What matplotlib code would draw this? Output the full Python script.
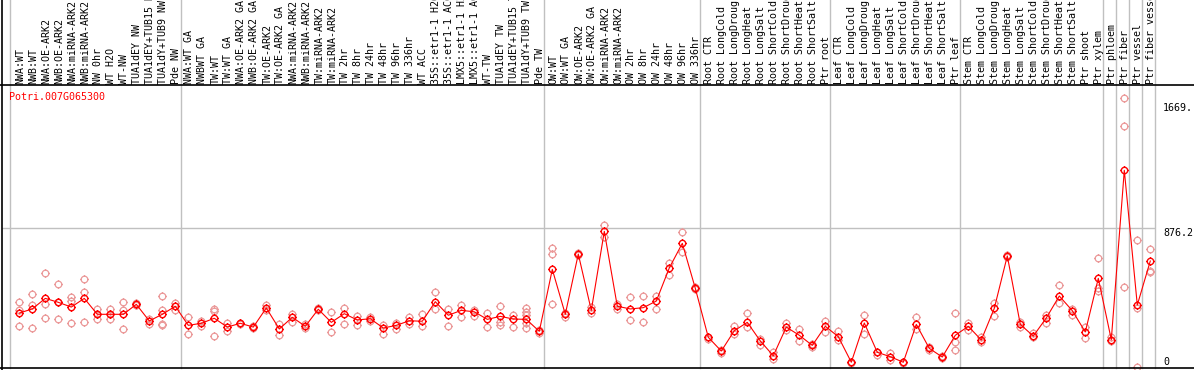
import matplotlib
matplotlib.use("Agg")
import matplotlib.pyplot as plt
from matplotlib.path import Path
from matplotlib.lines import Line2D
import matplotlib.transforms as mtransforms

# ---------------- data ----------------
gene_id = "Potri.007G065300"

labels_nw = ["NWA:WT", "NWB:WT", "NWA:OE-ARK2", "NWB:OE-ARK2", "NWA:miRNA-ARK2", "NWB:miRNA-ARK2",
             "NW 0hr", "WT H2O", "WT-NW", "TUA1dEY NW", "TUA1dEY+TUB15 NW", "TUA1dY+TUB9 NW", "Pde NW"]
labels_tw = ["NWA:WT GA", "NWBWT GA", "TW:WT", "TW:WT GA", "NWA:OE-ARK2 GA", "NWB:OE-ARK2 GA",
             "TW:OE-ARK2", "TW:OE-ARK2 GA", "NWA:miRNA-ARK2", "NWB:miRNA-ARK2", "TW:miRNA-ARK2",
             "TW:miRNA-ARK2", "TW 2hr", "TW 8hr", "TW 24hr", "TW 48hr", "TW 96hr", "TW 336hr", "WT ACC",
             "35S::etr1-1 H2O", "35S::etr1-1 ACC", "LMX5::etr1-1 H2O", "LMX5::etr1-1 ACC", "WT-TW",
             "TUA1dEY TW", "TUA1dEY+TUB15 TW", "TUA1dY+TUB9 TW", "Pde TW"]
labels_ow = ["OW:WT", "OW:WT GA", "OW:OE-ARK2", "OW:OE-ARK2 GA", "OW:miRNA-ARK2", "OW:miRNA-ARK2",
             "OW 2hr", "OW 8hr", "OW 24hr", "OW 48hr", "OW 96hr", "OW 336hr"]
labels_root = ["Root CTR", "Root LongCold", "Root LongDrought", "Root LongHeat", "Root LongSalt",
               "Root ShortCold", "Root ShortDrought", "Root ShortHeat", "Root ShortSalt", "Ptr root"]
labels_leaf = ["Leaf CTR", "Leaf LongCold", "Leaf LongDrought", "Leaf LongHeat", "Leaf LongSalt",
               "Leaf ShortCold", "Leaf ShortDrought", "Leaf ShortHeat", "Leaf ShortSalt", "Ptr leaf"]
labels_stem = ["Stem CTR", "Stem LongCold", "Stem LongDrought", "Stem LongHeat", "Stem LongSalt",
               "Stem ShortCold", "Stem ShortDrought", "Stem ShortHeat", "Stem ShortSalt",
               "Ptr shoot", "Ptr xylem"]
labels_ptr = ["Ptr phloem", "Ptr fiber", "Ptr vessel", "Ptr fiber vessel"]

groups = [labels_nw, labels_tw, labels_ow, labels_root, labels_leaf, labels_stem] + [[l] for l in labels_ptr]
labels = [l for g in groups for l in g]

means = [339, 365, 432, 407, 377, 432, 331, 331, 331, 394, 289, 331, 382,
         261, 274, 306, 250, 274, 250, 371, 238, 312, 255, 363, 280, 335, 295, 303, 244, 261,
         290, 287, 411, 325, 356, 347, 299, 318, 301, 299, 223,
         616, 331, 713, 356, 857, 382, 365, 373, 415, 625, 781, 496,
         185, 98, 227, 280, 162, 68, 250, 198, 134, 255,
         189, 27, 276, 90, 62, 27, 267, 115, 60, 198,
         255, 168, 369, 701, 267, 193, 308, 447, 354, 219, 559,
         170, 1244, 390, 669]

replicates = [
    [407, 358, 255], [458, 390, 244], [591, 399, 306], [521, 407, 299], [439, 418, 274],
    [555, 472, 280], [365, 331, 299], [365, 331, 303], [407, 358, 236], [401, 390, 391],
    [299, 270], [445, 358, 263, 270], [405, 358],
    [314, 208], [291, 257], [365, 354, 191], [274, 225], [278, 270], [259, 246], [388, 356],
    [272, 202], [335, 284], [242, 270], [369, 358], [344, 217], [373, 267], [322, 265],
    [312, 291], [265, 206], [276, 238], [316, 270], [333, 255], [470, 363], [365, 259],
    [388, 312], [358, 322], [341, 248], [382, 280, 261], [327, 248],
    [373, 344, 327, 274, 244], [232, 210],
    [749, 713, 394], [337, 316], [722, 707], [380, 337], [895, 819], [394, 367], [439, 293],
    [445, 280], [449, 363], [659, 578], [851, 724], [502, 489],
    [189, 172], [105, 83], [257, 204], [339, 251], [172, 136], [90, 48], [274, 232],
    [240, 160], [143, 126], [291, 219],
    [225, 168], [31, 20], [325, 204], [70, 95], [83, 41], [31, 20], [316, 236], [126, 105],
    [67, 54], [337, 153, 105],
    [278, 231], [185, 158], [401, 322], [705, 692], [282, 248], [210, 189], [325, 278],
    [517, 401], [363, 327], [248, 183], [686, 496, 481],
    [189, 164], [1701, 1523, 502], [800, 0, 370], [743, 606, 601]]

ytick_labels = [(1669, "1669."), (876.2, "876.2"), (0, "0")]
grid_value = 876.2

# ---------------- layout ----------------
W, H = 1194, 370
fig = plt.figure(figsize=(W / 100, H / 100), dpi=100)
x_left, x_right = 1.7, 1155.7
y_top, y_bot = 85.0, 368.3
ax = fig.add_axes([x_left / W, 1 - y_bot / H, (x_right - x_left) / W, (y_bot - y_top) / H])
x0_px, step_px = 19.3, 13.0
ax.set_xlim((x_left - x0_px) / step_px, (x_right - x0_px) / step_px)
ax.set_ylim(-11.4, 1785)
ax.set_axis_off()

mono = "DejaVu Sans Mono"
fs = 7.2
gray = "#c0c0c0"

# custom marker: circle with four small ticks
circle = Path.circle((0, 0), 1.0)
tv = [(1, 0), (1.35, 0), (-1, 0), (-1.35, 0), (0, 1), (0, 1.35), (0, -1), (0, -1.35)]
tc = [Path.MOVETO, Path.LINETO] * 4
marker_path = Path.make_compound_path(circle, Path(tv, tc))

# separators (column boundaries)
top_frac = y_bot / (y_bot - y_top)
bounds = [-0.715]
idx = 0
for g in groups:
    idx += len(g)
    bounds.append(idx - 1 + 0.4)
for b in bounds:
    ax.axvline(b, ymin=0, ymax=top_frac, color=gray, lw=1.0, clip_on=False, zorder=1)
ax.axhline(grid_value, color=gray, lw=1.0, zorder=1)

xs = list(range(len(labels)))

# replicates
for i, reps in enumerate(replicates):
    ax.plot([i] * len(reps), reps, linestyle="none", marker=marker_path, ms=6.4,
            mfc="none", mec="#eb9a9a", mew=0.9, zorder=2, clip_on=False)

ax.plot(xs, means, color="red", lw=0.8, zorder=3)
ax.plot(xs, means, linestyle="none", marker=marker_path, ms=6.2, mfc="none",
        mec="red", mew=1.0, zorder=4)

# header labels
trans = mtransforms.blended_transform_factory(ax.transData, ax.transAxes)
ylab = (y_bot - 83.5) / (y_bot - y_top)
for i, lab in enumerate(labels):
    ax.text(i + 0.08, ylab, lab, transform=trans, rotation=90, ha="center", va="bottom",
            family=mono, fontsize=fs, color="black", clip_on=False)

# frame lines
fig.add_artist(Line2D([0, 1], [1 - y_top / H] * 2, color="black", lw=1.2))
fig.add_artist(Line2D([0, 1], [1 - y_bot / H] * 2, color="black", lw=1.2))
fig.add_artist(Line2D([x_left / W] * 2, [0, 1], color="black", lw=1.2))

# y labels on right
ytrans = mtransforms.blended_transform_factory(fig.transFigure, ax.transData)
for val, txt in ytick_labels:
    va = "bottom" if val == 0 else "top"
    ax.text(1163 / W, val, txt, transform=ytrans, ha="left", va=va,
            family=mono, fontsize=fs, color="black", clip_on=False)

fig.text(9 / W, 1 - 92 / H, gene_id, ha="left", va="top", family=mono, fontsize=fs, color="red")

fig.savefig("out.png", dpi=100)
